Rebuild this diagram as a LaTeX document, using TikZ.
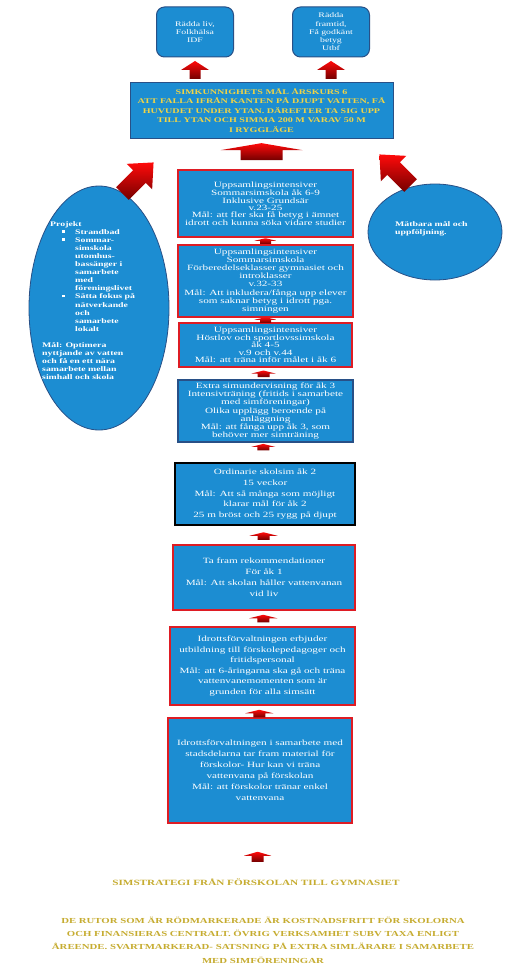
\documentclass[tikz,border=0pt]{standalone}
\usepackage{fontspec}
\setmainfont{Liberation Serif}[FakeStretch=1.4]
\usetikzlibrary{shapes.geometric,calc}
\definecolor{boxblue}{RGB}{28,141,210}
\definecolor{edgeblue}{RGB}{40,80,135}
\definecolor{boxred}{RGB}{222,28,36}
\definecolor{arrowred}{RGB}{255,10,10}
\definecolor{arrowdark}{RGB}{115,0,0}
\definecolor{goldtxt}{RGB}{240,212,70}
\definecolor{olivegold}{RGB}{198,172,48}
\newcommand\bitem{\hspace*{20pt}\makebox[13pt][l]{\raisebox{1.6pt}{\rule{2.4pt}{2.4pt}}}}
\newcommand\bcont{\hspace*{33pt}}
\tikzset{
  pics/blockup/.style n args={4}{code={
    \shade[top color=arrowred,bottom color=arrowdark]
      (0,{-(#3+#4)/2}) -- ({#1/2},{-(#3+#4)/2+#3}) -- ({#2/2},{-(#3+#4)/2+#3})
      -- ({#2/2},{(#3+#4)/2}) -- ({-#2/2},{(#3+#4)/2}) -- ({-#2/2},{-(#3+#4)/2+#3})
      -- ({-#1/2},{-(#3+#4)/2+#3}) -- cycle;
  }}
}
\begin{document}
\begin{tikzpicture}[x=1pt,y=-1pt,
  box/.style={draw=boxred,line width=2.4pt,fill=boxblue,text=white,align=center,inner sep=0pt,font=\fontsize{8}{#1}\selectfont},
  topbox/.style={draw=edgeblue,line width=1pt,rounded corners=8pt,fill=boxblue,text=white,align=center,inner sep=0pt,font=\fontsize{7}{8.3}\selectfont,minimum width=77,minimum height=50},
  titlebox/.style={draw=edgeblue,line width=1pt,fill=boxblue,text=goldtxt,align=center,inner sep=0pt,font=\bfseries\fontsize{7.2}{9.5}\selectfont},
  oval/.style={ellipse,draw=edgeblue,line width=0.8pt,fill=boxblue,inner sep=0pt},
  etext/.style={text=white,align=left,inner sep=0pt,font=\bfseries\fontsize{7}{8.1}\selectfont},
]
\fill[white] (0,0) rectangle (510,979);
\useasboundingbox (0,0) rectangle (510,979);

% top boxes
\node[topbox] (top1) at (195,32) {Rädda liv,\\Folkhälsa\\IDF};
\node[topbox] (top2) at (331,32) {Rädda\\framtid,\\Få godkänt\\betyg\\Utbf};

% title box
\node[titlebox,minimum width=263,minimum height=55] (title) at (261.5,110.5)
  {SIMKUNNIGHETS MÅL ÅRSKURS 6\\ATT FALLA IFRÅN KANTEN PÅ DJUPT VATTEN, FÅ\\HUVUDET UNDER YTAN. DÄREFTER TA SIG UPP\\TILL YTAN OCH SIMMA 200 M VARAV 50 M\\I RYGGLÄGE};

% stack of boxes
\node[box=7.4,minimum width=175,minimum height=67] (b1) at (265.5,203.5)
  {Uppsamlingsintensiver\\Sommarsimskola åk 6-9\\Inklusive Grundsär\\v.23-25\\Mål: att fler ska få betyg i ämnet\\idrott och kunna söka vidare studier};
\node[box=8.1,minimum width=175,minimum height=72] (b2) at (265.5,281)
  {Uppsamlingsintensiver\\Sommarsimskola\\Förberedelseklasser gymnasiet och\\introklasser\\v.32-33\\Mål: Att inkludera/fånga upp elever\\som saknar betyg i idrott pga.\\simningen};
\node[box=7.5,minimum width=173,minimum height=44] (b3) at (265.5,345)
  {Uppsamlingsintensiver\\Höstlov och sportlovssimskola\\åk 4-5\\v.9 och v.44\\Mål: att träna inför målet i åk 6};
\node[box=8.2,draw=edgeblue,line width=1.2pt,minimum width=175,minimum height=62] (b4) at (265.5,411)
  {Extra simundervisning för åk 3\\Intensivträning (fritids i samarbete\\med simföreningar)\\Olika upplägg beroende på\\anläggning\\Mål: att fånga upp åk 3, som\\behöver mer simträning};
\node[box=10.7,draw=black,line width=2.6pt,minimum width=180,minimum height=62] (b5) at (265,494)
  {Ordinarie skolsim åk 2\\15 veckor\\Mål: Att så många som möjligt\\klarar mål för åk 2\\25 m bröst och 25 rygg på djupt};
\node[box=11,minimum width=182,minimum height=65] (b6) at (264,577.5)
  {Ta fram rekommendationer\\För åk 1\\Mål: Att skolan håller vattenvanan\\vid liv};
\node[box=10.6,minimum width=185,minimum height=78] (b7) at (262.5,666)
  {Idrottsförvaltningen erbjuder\\utbildning till förskolepedagoger och\\fritidspersonal\\Mål: att 6-åringarna ska gå och träna\\vattenvanemomenten som är\\grunden för alla simsätt};
\node[box=11,minimum width=184,minimum height=105] (b8) at (260,770.5)
  {Idrottsförvaltningen i samarbete med\\stadsdelarna tar fram material för\\förskolor- Hur kan vi träna\\vattenvana på förskolan\\Mål: att förskolor tränar enkel\\vattenvana};

% ellipses
\node[oval,minimum width=140,minimum height=244] (proj) at (99,308) {};
\node[etext,anchor=north west] (projtxt) at (42,221)
  {\hspace*{8pt}Projekt\\
   \bitem Strandbad\\
   \bitem Sommar-\\
   \bcont simskola\\
   \bcont utomhus-\\
   \bcont bassänger i\\
   \bcont samarbete\\
   \bcont med\\
   \bcont föreningslivet\\
   \bitem Sätta fokus på\\
   \bcont nätverkande\\
   \bcont och\\
   \bcont samarbete\\
   \bcont lokalt\\[8.1pt]
   Mål: Optimera\\
   nyttjande av vatten\\
   och få en ett nära\\
   samarbete mellan\\
   simhall och skola};
\node[oval,minimum width=134,minimum height=96] (meas) at (435,232) {};
\node[etext,anchor=west] (meastxt) at (395,229) {Mätbara mål och\\uppföljning.};

% bottom texts
\node[inner sep=0pt,text=olivegold,font=\bfseries\fontsize{8}{10}\selectfont] (strat) at (256,882)
  {SIMSTRATEGI FRÅN FÖRSKOLAN TILL GYMNASIET};
\node[inner sep=0pt,text=olivegold,align=center,font=\bfseries\fontsize{7.7}{13.3}\selectfont] (note) at (263,940)
  {DE RUTOR SOM ÄR RÖDMARKERADE ÄR KOSTNADSFRITT FÖR SKOLORNA\\OCH FINANSIERAS CENTRALT. ÖVRIG VERKSAMHET SUBV TAXA ENLIGT\\ÅREENDE. SVARTMARKERAD- SATSNING PÅ EXTRA SIMLÄRARE I SAMARBETE\\MED SIMFÖRENINGAR};

% block arrows
\pic at ($(top1.south)!.5!(top1.south |- title.north)$) {blockup={28}{11}{9}{9}};
\pic at ($(top2.south)!.5!(top2.south |- title.north)$) {blockup={28}{11}{9}{9}};
\pic at ($(title.south)!.5!(b1.north)+(-2,-2)$) {blockup={82}{42}{7}{10}};
\pic at ($(b1.south)!.5!(b2.north)$) {blockup={22}{11}{2.5}{3}};
\pic at ($(b2.south)!.5!(b3.north)$) {blockup={22}{11}{2.5}{3}};
\pic at ($(b3.south)!.5!(b4.north)+(-2,0)$) {blockup={24}{12}{3}{3.5}};
\pic at ($(b4.south)!.5!(b5.north)+(-2,-5)$) {blockup={24}{12}{3}{3.5}};
\pic at ($(b5.south)!.5!(b6.north)+(-1,1)$) {blockup={28}{12}{3.5}{4}};
\pic at ($(b6.south)!.5!(b7.north)$) {blockup={28}{12}{3.5}{4}};
\pic at ($(b7.south)!.5!(b8.north)+(-2,2)$) {blockup={28}{12}{3.5}{4}};
\pic at ($(b8.south)!.6!(strat.north)$) {blockup={27}{12}{4}{6}};
\pic[rotate=-45] at (138,178) {blockup={36}{18}{20}{24}};
\pic[rotate=45] at (395,170) {blockup={36}{18}{20}{24}};
\end{tikzpicture}
\end{document}
